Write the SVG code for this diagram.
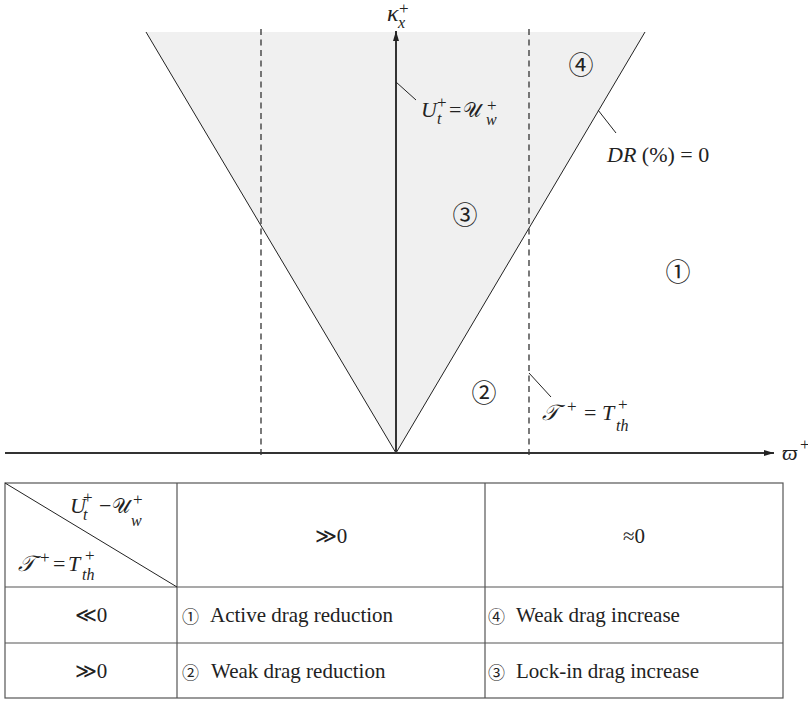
<svg xmlns="http://www.w3.org/2000/svg" width="808" height="702" viewBox="0 0 808 702">
<style>
.t{font-family:"Liberation Serif","DejaVu Serif",serif;fill:#222}
.i{font-style:italic}
.n{font-style:normal}
.p{font-size:22px}
.s{font-size:16px}
.sp{font-size:17px}
.u{font-size:20px}
.tb{font-size:21px}
.c{font-family:"Noto Sans CJK JP","Noto Sans CJK SC","DejaVu Sans",sans-serif;fill:#222}
.cp{font-size:25px}
.ct{font-size:17px}
.edge{stroke:#222;stroke-width:1;fill:none}
.dash{stroke:#333;stroke-width:1.3;stroke-dasharray:6 4.5;fill:none}
.axis{stroke:#333;stroke-width:2;fill:none}
.lead{stroke:#222;stroke-width:1;fill:none}
.grid{stroke:#555;stroke-width:1.2;fill:none}
</style>
<defs>
<marker id="arr" viewBox="0 0 10 6" refX="10" refY="3" markerWidth="10" markerHeight="6" orient="auto" markerUnits="userSpaceOnUse">
<path d="M0,0 L10,3 L0,6 z" fill="#222"/>
</marker>
</defs>
<rect width="808" height="702" fill="#fff"/>

<g id="plot">
<polygon points="146,32 645,32 396,453" fill="#f0f0f0"/>
<line class="edge" x1="146" y1="32" x2="396" y2="453"/>
<line class="edge" x1="645" y1="32" x2="396" y2="453"/>
<line class="dash" x1="261" y1="29" x2="261" y2="456"/>
<line class="dash" x1="529" y1="29" x2="529" y2="456"/>
</g>

<g id="connectors">
<line class="axis" x1="396" y1="453" x2="396" y2="31" marker-end="url(#arr)"/>
<line class="axis" x1="5" y1="453" x2="774" y2="453" marker-end="url(#arr)"/>
<line class="lead" x1="396" y1="82" x2="416" y2="100"/>
<line class="lead" x1="598" y1="110" x2="616" y2="133"/>
<line class="lead" x1="529" y1="373" x2="551" y2="397"/>
</g>

<g id="axis-labels">
<text class="t i"><tspan font-size="24" x="387" y="21">κ</tspan><tspan class="s" x="398" y="28">x</tspan><tspan class="sp n" x="399" y="14">+</tspan></text>
<text class="t i"><tspan class="p" x="782" y="460">ϖ</tspan><tspan class="sp n" x="800" y="450">+</tspan></text>
</g>

<g id="label-ut">
<text class="t"><tspan class="p i" x="421" y="117">U</tspan><tspan class="s i" x="437" y="124">t</tspan><tspan class="sp" x="437" y="108">+</tspan><tspan class="p" x="449" y="117">=</tspan><tspan class="u" x="463" y="117">𝒰</tspan><tspan class="s i" x="486" y="125">w</tspan><tspan class="sp" x="487" y="111">+</tspan></text>
</g>

<g id="label-dr">
<text class="t p" x="607" y="162"><tspan class="i">DR</tspan> (%) = 0</text>
</g>

<g id="label-tth">
<text class="t"><tspan class="p i" x="542" y="420">𝒯</tspan><tspan class="sp" x="567" y="412">+</tspan><tspan class="p" x="584" y="420">=</tspan><tspan class="p i" x="602" y="420">T</tspan><tspan class="s i" x="616" y="431">th</tspan><tspan class="sp" x="618" y="410">+</tspan></text>
</g>

<g id="regions">
<text class="c cp" x="581" y="74" text-anchor="middle">④</text>
<text class="c cp" x="465" y="224" text-anchor="middle">③</text>
<text class="c cp" x="678" y="281" text-anchor="middle">①</text>
<text class="c cp" x="484" y="402" text-anchor="middle">②</text>
</g>

<g id="table">
<rect class="grid" x="5" y="483" width="778" height="215"/>
<line class="grid" x1="5" y1="587" x2="783" y2="587"/>
<line class="grid" x1="5" y1="643" x2="783" y2="643"/>
<line class="grid" x1="177" y1="483" x2="177" y2="698"/>
<line class="grid" x1="485" y1="483" x2="485" y2="698"/>
<line class="edge" x1="5" y1="483" x2="177" y2="587"/>
</g>

<g id="table-header">
<text class="t"><tspan class="p i" x="70" y="513">U</tspan><tspan class="s i" x="83" y="520">t</tspan><tspan class="sp" x="83" y="503">+</tspan><tspan class="p" x="99" y="513">−</tspan><tspan class="u" x="112" y="513">𝒰</tspan><tspan class="s i" x="131" y="526">w</tspan><tspan class="sp" x="133" y="505">+</tspan></text>
<text class="t"><tspan class="p i" x="18" y="571">𝒯</tspan><tspan class="sp" x="40" y="563">+</tspan><tspan class="p" x="53" y="571">=</tspan><tspan class="p i" x="68" y="571">T</tspan><tspan class="s i" x="82" y="580">th</tspan><tspan class="sp" x="85" y="561">+</tspan></text>
<text class="t tb" x="331" y="543" text-anchor="middle">≫0</text>
<text class="t tb" x="634" y="543" text-anchor="middle">≈0</text>
</g>

<g id="table-body">
<text class="t tb" x="91" y="622" text-anchor="middle">≪0</text>
<text class="t tb" x="91" y="678" text-anchor="middle">≫0</text>
<text class="c ct" x="182" y="623">①</text>
<text class="t tb" x="210" y="622">Active drag reduction</text>
<text class="c ct" x="182" y="679">②</text>
<text class="t tb" x="211" y="678">Weak drag reduction</text>
<text class="c ct" x="488" y="623">④</text>
<text class="t tb" x="516" y="622">Weak drag increase</text>
<text class="c ct" x="488" y="679">③</text>
<text class="t tb" x="516" y="678">Lock-in drag increase</text>
</g>
</svg>
